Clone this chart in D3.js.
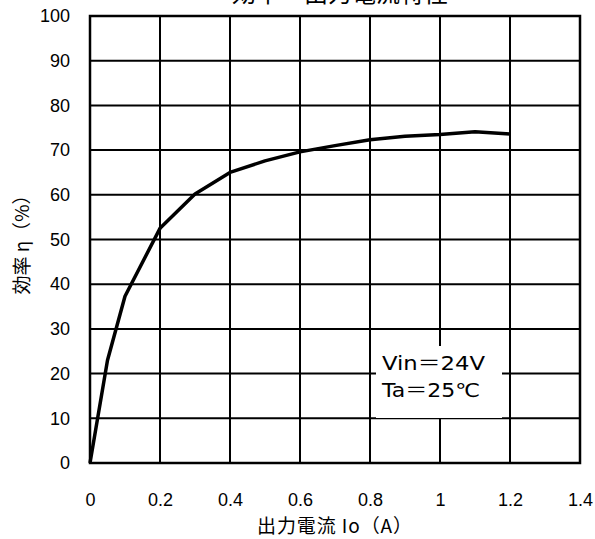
<!DOCTYPE html>
<html><head><meta charset="utf-8">
<script src="https://cdn.jsdelivr.net/npm/d3@7"></script>
<style>body{margin:0;background:#fff}svg{display:block}</style>
</head><body>
<svg id="c" width="595" height="539"></svg>
<script>
const currentA = [0, 0.05, 0.1, 0.2, 0.3, 0.4, 0.5, 0.6, 0.7, 0.8, 0.9, 1.0, 1.1, 1.2];
const efficiency = [0, 23, 37.3, 52.5, 60.2, 65, 67.6, 69.6, 71, 72.3, 73.1, 73.5, 74.1, 73.6];
const xTicks = [0, 0.2, 0.4, 0.6, 0.8, 1, 1.2, 1.4];
const yTicks = [0, 10, 20, 30, 40, 50, 60, 70, 80, 90, 100];
const title = "効率－出力電流特性";
const xTitle = "出力電流 Io（A）";
const yTitle = "効率 η（%）";
const noteLines = ["Vin＝24V", "Ta＝25℃"];

const svg = d3.select("#c");
const x = d3.scaleLinear().domain([0, 1.4]).range([90, 580]);
const y = d3.scaleLinear().domain([0, 100]).range([463, 16]);
const cjk = "'Noto Sans CJK JP', sans-serif";
const wide = "'DejaVu Sans', 'Noto Sans CJK JP', sans-serif";
const lat = "'Liberation Sans', Arial, sans-serif";

// grid
const g = svg.append("g");
g.selectAll("line.v").data(xTicks).join("line")
  .attr("x1", d => x(d)).attr("x2", d => x(d))
  .attr("y1", y(0)).attr("y2", y(100))
  .attr("stroke", "#000").attr("stroke-width", 2);
g.selectAll("line.h").data(yTicks).join("line")
  .attr("y1", d => y(d)).attr("y2", d => y(d))
  .attr("x1", x(0)).attr("x2", x(1.4))
  .attr("stroke", "#000").attr("stroke-width", 2);
svg.append("rect").attr("x", x(0)).attr("y", y(100))
  .attr("width", x(1.4) - x(0)).attr("height", y(0) - y(100))
  .attr("fill", "none").attr("stroke", "#000").attr("stroke-width", 2.5);

// axes labels via d3 axes
const xAxis = svg.append("g").attr("transform", `translate(0,${y(0)})`)
  .call(d3.axisBottom(x).tickValues(xTicks).tickSize(0).tickPadding(30).tickFormat(d3.format("")));
const yAxis = svg.append("g").attr("transform", `translate(${x(0)},0)`)
  .call(d3.axisLeft(y).tickValues(yTicks).tickSize(0).tickPadding(20));
[xAxis, yAxis].forEach(a => {
  a.select(".domain").remove();
  a.selectAll("text").attr("font-family", lat).attr("font-size", 18).attr("fill", "#000");
});

// note box
svg.append("rect").attr("x", 376).attr("y", 346).attr("width", 126).attr("height", 72).attr("fill", "#fff");
const noteLen = [103, 98];
svg.selectAll("text.note").data(noteLines).join("text").attr("class", "note")
  .attr("x", 382).attr("y", (d, i) => 370 + i * 27)
  .attr("textLength", (d, i) => noteLen[i]).attr("lengthAdjust", "spacingAndGlyphs")
  .attr("font-family", wide).attr("font-size", 19).text(d => d);

// curve
svg.append("path").datum(currentA.map((c, i) => [c, efficiency[i]]))
  .attr("d", d3.line().x(d => x(d[0])).y(d => y(d[1])))
  .attr("fill", "none").attr("stroke", "#000").attr("stroke-width", 3.5)
  .attr("stroke-linejoin", "round");

// titles
svg.append("text").attr("x", 340).attr("y", 2).attr("text-anchor", "middle")
  .attr("font-family", cjk).attr("font-size", 24).text(title);
svg.append("text").attr("x", 257).attr("y", 533)
  .attr("textLength", 155).attr("lengthAdjust", "spacing")
  .attr("font-family", cjk).attr("font-size", 19).text(xTitle);
svg.append("text").attr("transform", "translate(29,240) rotate(-90)").attr("text-anchor", "middle")
  .attr("font-family", cjk).attr("font-size", 19).text(yTitle);
</script>
</body></html>
